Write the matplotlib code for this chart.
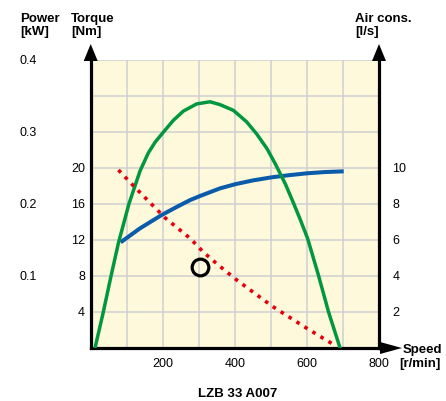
import matplotlib
matplotlib.use('Agg')
import matplotlib.pyplot as plt
from matplotlib.patches import Polygon

plt.rcParams['font.family'] = ['Liberation Sans', 'DejaVu Sans']

# power curve [kW] vs speed [r/min]
power_speed = [12, 35, 56, 77, 106, 137, 160, 179, 202, 229, 257, 294, 331, 359, 396, 433, 461, 489, 512, 540, 563, 581, 602, 632, 660, 692]
power_kw = [0.0, 0.050, 0.099, 0.146, 0.200, 0.246, 0.271, 0.286, 0.300, 0.316, 0.329, 0.339, 0.342, 0.338, 0.330, 0.314, 0.297, 0.277, 0.256, 0.228, 0.201, 0.179, 0.152, 0.101, 0.050, 0.0]

# torque curve [Nm]
torque_speed = [83, 137, 197, 240, 276, 304, 359, 401, 450, 503, 550, 600, 650, 702]
torque_nm = [11.74, 13.3, 14.78, 15.7, 16.44, 16.9, 17.74, 18.2, 18.62, 18.97, 19.2, 19.41, 19.55, 19.63]

# air consumption [l/s]
air_speed = [77, 121, 206, 276, 313, 354, 405, 503, 600, 679]
air_ls = [9.89, 8.96, 7.24, 6.09, 5.32, 4.61, 3.78, 2.33, 1.09, 0.13]

# marked point (torque scale)
point_speed = [303]
point_torque = [9.0]

speed_ticks = [200, 400, 600, 800]
torque_ticks = [4, 8, 12, 16, 20]
power_ticks = [0.1, 0.2, 0.3, 0.4]
air_ticks = [2, 4, 6, 8, 10]

W, H = 446, 401
fig = plt.figure(figsize=(W / 100, H / 100), dpi=100)
left, right, bottom, top = 90.7, 379, 348, 60
ax = fig.add_axes([left / W, 1 - bottom / H, (right - left) / W, (bottom - top) / H])

ax.set_facecolor('#fff9dc')
ax.set_xlim(0, 800)
ax.set_ylim(0, 32)
xgrid = list(range(0, 801, 100))
ygrid = list(range(0, 33, 4))
ax.set_xticks(xgrid, labels=[str(v) if v in speed_ticks else '' for v in xgrid])
ax.set_yticks(ygrid, labels=[str(v) if v in torque_ticks else '' for v in ygrid])
ax.grid(color='#cfcfcf', lw=1.1)
ax.set_axisbelow(True)
ax.tick_params(length=0)
ax.tick_params(axis='y', pad=4, labelsize=9)
ax.tick_params(axis='x', pad=7.5, labelsize=9)
for s in ['top', 'right']:
    ax.spines[s].set_visible(False)
for s in ['left', 'bottom']:
    ax.spines[s].set_linewidth(2.3)
    ax.spines[s].set_zorder(5)

ax.plot(torque_speed, torque_nm, color='#0a5cab', lw=2.9, solid_capstyle='butt')
ax.plot(point_speed, point_torque, 'o', ms=12, mfc='none', mec='black', mew=2.3)

# power axis on far left
ax_p = ax.twinx()
ax_p.set_ylim(0, 0.4)
ax_p.yaxis.set_ticks_position('left')
ax_p.spines['left'].set_position(('outward', 38.7))
for s in ax_p.spines.values():
    s.set_visible(False)
ax_p.set_yticks(power_ticks)
ax_p.set_yticklabels([f'{v:.1f}' for v in power_ticks])
ax_p.tick_params(length=0, pad=0, labelsize=9)
ax_p.plot(power_speed, power_kw, color='#00973f', lw=2.5)

# air consumption axis on right
ax_a = ax.twinx()
ax_a.set_ylim(0, 16)
ax_a.set_yticks(air_ticks)
ax_a.tick_params(length=0, pad=9.5, labelsize=9)
for s in ['top', 'left', 'bottom']:
    ax_a.spines[s].set_visible(False)
ax_a.spines['right'].set_linewidth(2.3)
ax_a.plot(air_speed, air_ls, color='#e3000f', lw=2.6, linestyle=(0, (1, 1.6)), dash_capstyle='butt')

# axis arrows
aw, ah = right - left, bottom - top
def tri(x0, y0, pts):
    return Polygon([(x0 + dx / aw, y0 + dy / ah) for dx, dy in pts], closed=True,
                   transform=ax_a.transAxes, clip_on=False, color='black', lw=0)
ax_a.add_patch(tri(0, 1, [(-7, -1), (7, -1), (0, 16)]))
ax_a.add_patch(tri(1, 1, [(-7, -1), (7, -1), (0, 16)]))
ax_a.plot([1, 1 + 4 / aw], [0, 0], color='black', lw=2.3, transform=ax_a.transAxes, clip_on=False, solid_capstyle='butt')
ax_a.add_patch(tri(1, 0, [(1, -6), (1, 6), (23, 0)]))

def px(x, y):
    return x / W, 1 - y / H

bold = dict(fontsize=9.5, fontweight='bold')
fig.text(*px(20, 21.7), 'Power', **bold)
fig.text(*px(20, 34.5), '[kW]', **bold)
fig.text(*px(71, 21.7), 'Torque', **bold)
fig.text(*px(71, 34.5), '[Nm]', **bold)
fig.text(*px(355, 21.7), 'Air cons.', **bold)
fig.text(*px(355, 34.5), '[l/s]', **bold)
fig.text(*px(403, 353.5), 'Speed', **bold)
fig.text(*px(399, 366.7), '[r/min]', **bold)
fig.text(*px(237.5, 397.3), 'LZB 33 A007', ha='center', **bold)

fig.savefig('out.png', dpi=100)
